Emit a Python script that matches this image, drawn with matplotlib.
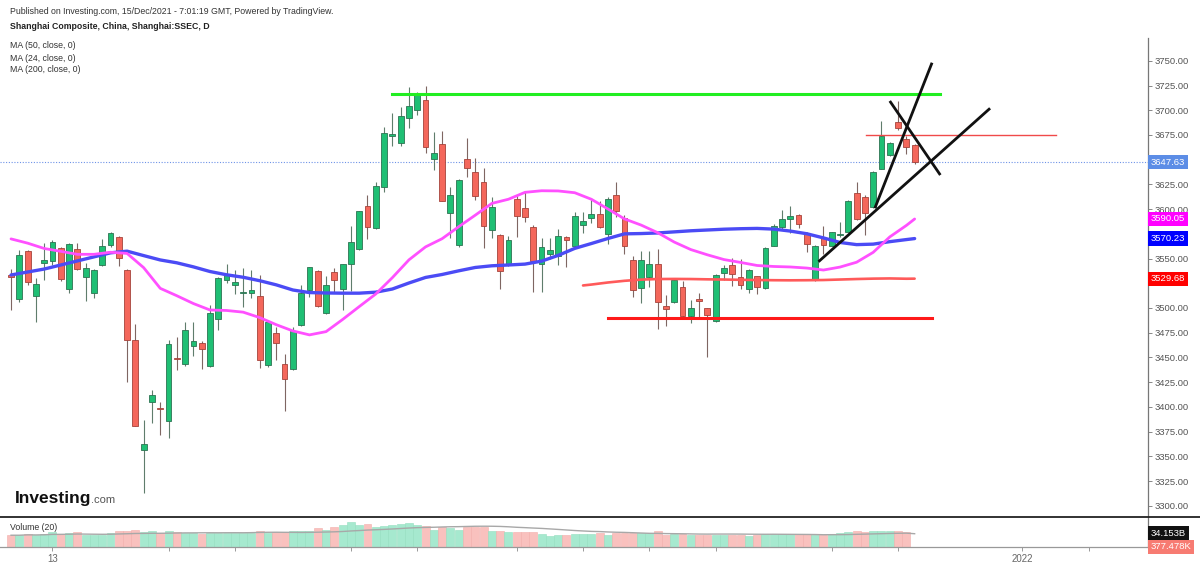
import matplotlib
matplotlib.use('Agg')
import matplotlib.pyplot as plt
import pandas as pd
from matplotlib.lines import Line2D

plt.rcParams['font.family'] = ['Liberation Sans', 'DejaVu Sans']

# ---------------- data (daily candles, SSEC) ----------------
opens = [3533, 3509, 3558, 3512, 3546, 3548, 3561, 3519, 3560, 3531,
         3515, 3543, 3564, 3572, 3538, 3468, 3356, 3405, 3399, 3386,
         3449, 3443, 3462, 3465, 3441, 3489, 3528, 3523, 3515, 3515,
         3512, 3442, 3475, 3443, 3438, 3483, 3518, 3537, 3495, 3536,
         3519, 3544, 3560, 3603, 3581, 3622, 3674, 3667, 3692, 3700,
         3710, 3651, 3666, 3596, 3564, 3651, 3638, 3627, 3579, 3574,
         3543, 3610, 3601, 3582, 3545, 3555, 3553, 3572, 3563, 3584,
         3591, 3595, 3575, 3614, 3591, 3549, 3520, 3531, 3544, 3502,
         3506, 3521, 3492, 3508, 3500, 3487, 3535, 3543, 3531, 3519,
         3532, 3520, 3563, 3582, 3590, 3594, 3576, 3528, 3571, 3563,
         3574, 3577, 3616, 3612, 3602, 3641, 3655, 3688, 3671, 3665]
highs = [3539, 3559, 3559, 3530, 3566, 3569, 3562, 3566, 3566, 3546,
         3539, 3570, 3577, 3573, 3539, 3484, 3387, 3417, 3405, 3468,
         3471, 3486, 3486, 3467, 3503, 3531, 3545, 3538, 3540, 3538,
         3533, 3488, 3481, 3453, 3481, 3523, 3541, 3538, 3532, 3540,
         3544, 3583, 3598, 3614, 3627, 3683, 3697, 3703, 3724, 3718,
         3725, 3678, 3679, 3622, 3630, 3672, 3652, 3642, 3612, 3575,
         3573, 3614, 3617, 3584, 3571, 3571, 3580, 3572.5, 3597, 3597,
         3611, 3608, 3612, 3627, 3594, 3553, 3558, 3558, 3560, 3513,
         3528, 3527, 3508, 3515, 3500.5, 3534, 3543, 3551, 3550, 3539,
         3532.5, 3562, 3585, 3599, 3603, 3595, 3577, 3563.5, 3583, 3577,
         3587, 3609, 3627, 3614, 3639, 3689, 3668, 3709, 3674, 3666]
lows = [3498, 3506, 3523, 3486, 3528, 3543, 3527, 3515, 3538, 3507,
        3510, 3542, 3562, 3542, 3425, 3381, 3313, 3384, 3372, 3369,
        3437, 3441, 3451, 3438, 3440, 3478, 3525, 3514, 3501, 3510,
        3439, 3440, 3447, 3396, 3437, 3482, 3511, 3501, 3494, 3515,
        3498, 3517, 3559, 3570, 3580, 3617, 3664, 3664, 3682, 3695,
        3657, 3640, 3608, 3571, 3562, 3633, 3609, 3561, 3571, 3519,
        3542, 3572, 3587, 3516, 3516, 3550, 3543, 3541, 3562, 3576,
        3586, 3581, 3565, 3592, 3555, 3511, 3505, 3521, 3479, 3482,
        3505, 3491, 3485, 3491, 3450, 3486, 3528, 3522, 3519, 3515,
        3514, 3519, 3562.5, 3580, 3576, 3581, 3557, 3527.5, 3555, 3562.5,
        3572, 3576.5, 3589, 3574, 3601, 3640.5, 3654, 3680, 3656, 3646]
closes = [3531, 3554, 3526, 3524, 3549, 3567, 3529, 3565, 3539, 3540,
          3538, 3563, 3576, 3551, 3468, 3381, 3362, 3412, 3398, 3464,
          3448, 3478, 3467, 3459, 3495, 3530, 3533, 3526, 3516, 3518,
          3447, 3486, 3465, 3428, 3477, 3515, 3541, 3502, 3523, 3528,
          3544, 3567, 3598, 3582, 3623, 3677, 3676, 3694, 3704, 3716,
          3663, 3657, 3608, 3614, 3629, 3642, 3613, 3583, 3602, 3537,
          3569, 3593, 3592, 3548, 3562, 3559, 3573, 3569, 3593, 3588,
          3595, 3582, 3610, 3598, 3563, 3518, 3549, 3545, 3506, 3499,
          3528, 3492, 3500, 3507.5, 3493, 3533, 3540, 3534, 3523, 3538,
          3521, 3561, 3583, 3590, 3593, 3585, 3565, 3563, 3564, 3577,
          3575, 3608, 3590, 3596, 3638, 3674, 3667, 3682, 3663, 3647.63]
volumes_b = [29.7, 29.7, 32.4, 29.7, 32.4, 36.9, 32.4, 34.2, 36.9, 30.6,
             29.7, 29.7, 34.2, 41.4, 41.4, 44.1, 36.9, 39.6, 35.1, 39.6,
             37.8, 36.0, 34.2, 32.4, 35.1, 35.1, 35.1, 35.1, 35.1, 36.0,
             41.4, 36.0, 36.9, 36.9, 39.6, 39.6, 41.4, 47.7, 43.2, 50.4,
             54.9, 62.1, 54.9, 57.6, 50.4, 53.1, 56.7, 58.5, 59.4, 54.9,
             53.1, 44.1, 50.4, 48.6, 44.1, 50.4, 50.4, 50.4, 41.4, 41.4,
             36.9, 36.9, 36.9, 36.9, 32.4, 27.9, 30.6, 30.6, 32.4, 32.4,
             32.4, 34.2, 30.6, 35.1, 35.1, 35.1, 35.1, 35.1, 39.6, 29.7,
             32.4, 32.4, 29.7, 29.7, 29.7, 30.6, 30.6, 30.6, 30.6, 27.9,
             29.7, 32.4, 32.4, 32.4, 32.4, 32.4, 32.4, 30.6, 29.7, 32.4,
             35.1, 36.9, 41.4, 38.7, 41.4, 41.4, 41.4, 39.6, 36.9, 0.000377]

# moving averages (every second bar + last bar)
ma_idx = list(range(0, 110, 2)) + [109]
ma50 = [3533.4, 3536.4, 3539.4, 3543.5, 3547.6, 3551.7, 3555.8, 3557.5, 3553.0, 3548.6,
        3545.7, 3541.6, 3536.9, 3533.6, 3531.1, 3527.6, 3523.4, 3518.2, 3515.6, 3515.2,
        3515.0, 3515.0, 3516.0, 3519.2, 3525.3, 3530.9, 3533.9, 3537.6, 3541.0, 3542.7,
        3543.5, 3544.4, 3547.4, 3553.2, 3560.3, 3565.2, 3570.3, 3575.0, 3575.3, 3575.9,
        3577.0, 3578.1, 3578.9, 3579.7, 3580.2, 3580.5, 3579.8, 3577.8, 3575.1, 3570.9,
        3566.3, 3564.1, 3564.6, 3567.1, 3569.2, 3570.23]
ma24 = [3569.9, 3565.6, 3560.2, 3557.3, 3554.3, 3554.3, 3556.4, 3555.2, 3540.8, 3519.9,
        3512.4, 3504.5, 3498.0, 3497.5, 3495.8, 3490.3, 3483.1, 3476.8, 3472.8, 3476.1,
        3488.4, 3501.4, 3514.2, 3530.7, 3548.7, 3561.8, 3570.1, 3582.2, 3593.9, 3605.8,
        3610.0, 3617.0, 3618.6, 3618.4, 3616.6, 3610.0, 3600.2, 3590.1, 3583.9, 3576.2,
        3566.7, 3559.1, 3553.8, 3549.0, 3546.1, 3543.0, 3542.0, 3541.5, 3540.4, 3538.4,
        3541.4, 3546.3, 3556.3, 3571.9, 3583.5, 3590.05]
ma200_idx = [69] + list(range(70, 110, 2)) + [109]
ma200 = [3522.8, 3523.7, 3525.8, 3527.5, 3528.7, 3529.3, 3529.4, 3529.3, 3529.0, 3528.8,
         3528.5, 3528.3, 3528.1, 3528.0, 3528.1, 3528.3, 3528.8, 3529.3, 3529.7, 3529.9,
         3529.6, 3529.68]

# drawn objects (bar index, price)
green_line = ([46.0, 112.1], [3716.2, 3716.2])
red_support = ([72.0, 111.1], [3489.6, 3489.6])
red_thin = ([103.1, 126.1], [3674.7, 3674.7])
trend_steep = ([104.2, 111.1], [3600.9, 3748.1])
trend_low = ([97.4, 118.1], [3546.8, 3702.0])
trend_down = ([106.0, 112.1], [3709.4, 3634.5])

price_ticks = [3300 + 25 * k for k in range(19)]
hidden_tick_labels = [3650, 3575, 3525]   # covered by the value tags
x_tick_idx = [5, 19, 27, 41, 49, 61, 69, 77, 85, 99, 107, 122, 130]
x_tick_labels = ['13', '', '', '', '', '', '', '', '', '', '', '2022', '']

last_price = 3647.63
vol_ma_last = 34.153

# ---------------- figure ----------------
W, H = 1200, 566
fig = plt.figure(figsize=(W / 100, H / 100), dpi=100)


def fx(px):
    return px / W


def fy(py):
    return 1 - py / H


ax = fig.add_axes([0, fy(517), fx(1148), fy(38) - fy(517)])
axv = fig.add_axes([0, fy(547), fx(1148), fy(517) - fy(547)], sharex=ax)

n = len(closes)
idx = list(range(n))
up = [c >= o for o, c in zip(opens, closes)]

# wicks
ax.vlines(idx, lows, highs, colors=['#5f7d6c' if u else '#7f6662' for u in up],
          linewidth=0.8, zorder=2)
# bodies
bottoms = [min(o, c) for o, c in zip(opens, closes)]
heights = [max(abs(c - o), 1.3) for o, c in zip(opens, closes)]
ax.bar(idx, heights, bottom=bottoms, width=0.7,
       color=['#1fbf74' if u else '#f4675b' for u in up],
       edgecolor=['#2d7352' if u else '#a5433b' for u in up],
       linewidth=0.6, zorder=3)

# moving averages
ax.plot(ma_idx, ma50, color='#4b4bf5', lw=2.4, zorder=4, solid_capstyle='round')
ax.plot(ma_idx, ma24, color='#ff50ff', lw=2.0, zorder=4, solid_capstyle='round')
ax.plot(ma200_idx, ma200, color='#ff5a5a', lw=1.9, zorder=4, solid_capstyle='round')

# last price dotted line
ax.axhline(last_price, color='#6e93e8', lw=0.8, ls=(0, (1, 1.5)), zorder=1)

# drawings
ax.plot(*green_line, color='#22ee22', lw=2.2, zorder=5)
ax.plot(*red_support, color='#ff1a1a', lw=2.2, zorder=5)
ax.plot(*red_thin, color='#f04a4a', lw=1.0, zorder=5)
for tl in (trend_steep, trend_low, trend_down):
    ax.plot(*tl, color='#111111', lw=2.0, zorder=6, solid_capstyle='butt')

ax.set_xlim(-1.33, 137.15)
ax.set_ylim(3288.6, 3773.1)
for s in ('left', 'top', 'bottom'):
    ax.spines[s].set_visible(False)
ax.spines['right'].set_color('#777777')
ax.spines['right'].set_linewidth(0.9)
ax.yaxis.tick_right()
ax.set_yticks(price_ticks)
ax.set_yticklabels(['' if v in hidden_tick_labels else f'{v:.2f}' for v in price_ticks])
ax.tick_params(axis='y', length=3, width=0.7, color='#888888', labelcolor='#555555',
               labelsize=6.8, pad=1.5)
ax.tick_params(axis='x', which='both', bottom=False, labelbottom=False)

# volume pane
axv.bar(idx, volumes_b, width=0.96,
        color=['#a6e9cf' if u else '#f9c1be' for u in up],
        edgecolor=['#94dfc0' if u else '#f3aeaa' for u in up], linewidth=0.4, zorder=2)
vol_ma = pd.Series(volumes_b).rolling(20, min_periods=1).mean()
axv.plot(idx, vol_ma, color='#a8a8a8', lw=1.0, zorder=3)
axv.set_ylim(0, 75.6)
axv.set_yticks([])
for s in ('left', 'top'):
    axv.spines[s].set_visible(False)
axv.spines['right'].set_color('#777777')
axv.spines['right'].set_linewidth(0.9)
axv.spines['bottom'].set_color('#999999')
axv.spines['bottom'].set_linewidth(0.9)
axv.set_xticks(x_tick_idx)
axv.set_xticklabels(x_tick_labels)
axv.tick_params(axis='x', length=3, width=0.7, color='#999999', labelcolor='#666666',
                labelsize=7, pad=2)

# separator between panes
fig.add_artist(Line2D([0, 1], [fy(517), fy(517)], color='#222222', lw=1.3))


def tag(axis, val, text, fc, tc='white'):
    axis.annotate(text, xy=(1, val), xycoords=('axes fraction', 'data'),
                  xytext=(2.2, 0), textcoords='offset points', ha='left', va='center',
                  fontsize=6.8, color=tc, annotation_clip=False, zorder=10,
                  bbox=dict(boxstyle='square,pad=0.28', fc=fc, ec='none'))


tag(ax, last_price, f'{last_price:.2f}', '#5c8de6')
tag(ax, ma24[-1], f'{ma24[-1]:.2f}', '#ff00ff')
tag(ax, ma50[-1], f'{ma50[-1]:.2f}', '#0000ff')
tag(ax, ma200[-1], f'{ma200[-1]:.2f}', '#ff0000')
tag(axv, vol_ma_last, f'{vol_ma_last:.3f}B', '#111111')
tag(axv, 0.6, '377.478K', '#f77b72')

# header texts
fig.text(fx(10), fy(11), 'Published on Investing.com, 15/Dec/2021 - 7:01:19 GMT, Powered by TradingView.',
         fontsize=6.3, color='#333333', va='center')
fig.text(fx(10), fy(26.5), 'Shanghai Composite, China, Shanghai:SSEC, D',
         fontsize=6.3, weight='bold', color='#222222', va='center')
for k, lab in enumerate(['MA (50, close, 0)', 'MA (24, close, 0)', 'MA (200, close, 0)']):
    fig.text(fx(10), fy(46 + 12 * k), lab, fontsize=6.3, color='#333333', va='center')

# logo
fig.text(fx(15), fy(498), 'Investing', fontsize=12.5, weight='bold', color='#111111', va='center')
fig.text(fx(91), fy(500), '.com', fontsize=8, color='#555555', va='center')

fig.text(fx(10), fy(527), 'Volume (20)', fontsize=6.3, color='#333333', va='center')

fig.savefig('out.png', dpi=100)
